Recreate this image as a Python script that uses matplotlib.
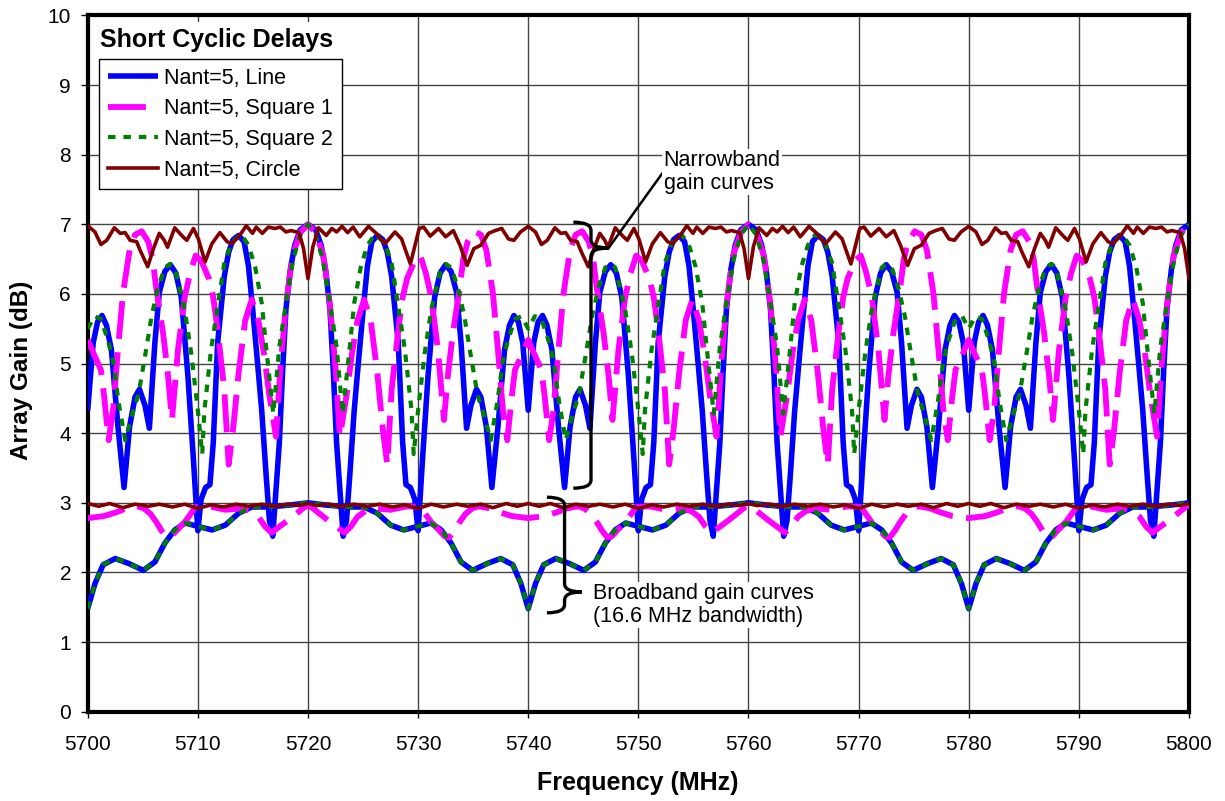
import matplotlib
matplotlib.use('Agg')
import matplotlib.pyplot as plt
from matplotlib.path import Path
from matplotlib.patches import PathPatch, Rectangle

plt.rcParams['font.family'] = ['Liberation Sans', 'DejaVu Sans']

# (frequency MHz, array gain dB)
# narrowband curves
line_nb = [
    (5700.0, 4.33), (5700.5, 5.30), (5700.9, 5.60), (5701.3, 5.69), (5701.7, 5.55), (5702.15, 5.20), (5702.75, 4.09), (5703.3, 3.22), (5703.8, 4.09), (5704.3, 4.52), (5704.7, 4.63), (5705.2, 4.40), (5705.6, 4.07), (5706.1, 5.30), (5706.5, 6.02), (5707.0, 6.32), (5707.5, 6.42), (5708.0, 6.30), (5708.5, 5.95), (5709.1, 4.82), (5709.6, 3.62), (5710.0, 2.60), (5710.3, 3.05), (5710.7, 3.22), (5711.1, 3.26), (5711.4, 3.86), (5711.8, 5.30), (5712.4, 6.25), (5712.8, 6.60), (5713.2, 6.78), (5713.7, 6.84), (5714.2, 6.75), (5714.6, 6.40), (5715.0, 5.75), (5715.4, 5.05), (5715.8, 4.33), (5716.2, 3.40), (5716.5, 2.75), (5716.8, 2.52), (5717.4, 3.86), (5717.7, 4.90), (5718.0, 5.78), (5718.4, 6.35), (5718.8, 6.70), (5719.3, 6.92), (5720.0, 7.00),
    (5720.7, 6.92), (5721.2, 6.70), (5721.6, 6.35), (5722.0, 5.78), (5722.3, 4.90), (5722.6, 3.86), (5723.2, 2.52), (5723.5, 2.75), (5723.8, 3.40), (5724.2, 4.33), (5724.6, 5.05), (5725.0, 5.75), (5725.4, 6.40), (5725.8, 6.75), (5726.3, 6.84), (5726.8, 6.78), (5727.2, 6.60), (5727.6, 6.25), (5728.2, 5.30), (5728.6, 3.86), (5728.9, 3.26), (5729.3, 3.22), (5729.7, 3.05), (5730.0, 2.60), (5730.4, 3.62), (5730.9, 4.82), (5731.5, 5.95), (5732.0, 6.30), (5732.5, 6.42), (5733.0, 6.32), (5733.5, 6.02), (5733.9, 5.30), (5734.4, 4.07), (5734.8, 4.40), (5735.3, 4.63), (5735.7, 4.52), (5736.2, 4.09), (5736.7, 3.22), (5737.25, 4.09), (5737.85, 5.20), (5738.3, 5.55), (5738.7, 5.69), (5739.1, 5.60), (5739.5, 5.30), (5740.0, 4.33),
    (5740.5, 5.30), (5740.9, 5.60), (5741.3, 5.69), (5741.7, 5.55), (5742.15, 5.20), (5742.75, 4.09), (5743.3, 3.22), (5743.8, 4.09), (5744.3, 4.52), (5744.7, 4.63), (5745.2, 4.40), (5745.6, 4.07), (5746.1, 5.30), (5746.5, 6.02), (5747.0, 6.32), (5747.5, 6.42), (5748.0, 6.30), (5748.5, 5.95), (5749.1, 4.82), (5749.6, 3.62), (5750.0, 2.60), (5750.3, 3.05), (5750.7, 3.22), (5751.1, 3.26), (5751.4, 3.86), (5751.8, 5.30), (5752.4, 6.25), (5752.8, 6.60), (5753.2, 6.78), (5753.7, 6.84), (5754.2, 6.75), (5754.6, 6.40), (5755.0, 5.75), (5755.4, 5.05), (5755.8, 4.33), (5756.2, 3.40), (5756.5, 2.75), (5756.8, 2.52), (5757.4, 3.86), (5757.7, 4.90), (5758.0, 5.78), (5758.4, 6.35), (5758.8, 6.70), (5759.3, 6.92), (5760.0, 7.00),
    (5760.7, 6.92), (5761.2, 6.70), (5761.6, 6.35), (5762.0, 5.78), (5762.3, 4.90), (5762.6, 3.86), (5763.2, 2.52), (5763.5, 2.75), (5763.8, 3.40), (5764.2, 4.33), (5764.6, 5.05), (5765.0, 5.75), (5765.4, 6.40), (5765.8, 6.75), (5766.3, 6.84), (5766.8, 6.78), (5767.2, 6.60), (5767.6, 6.25), (5768.2, 5.30), (5768.6, 3.86), (5768.9, 3.26), (5769.3, 3.22), (5769.7, 3.05), (5770.0, 2.60), (5770.4, 3.62), (5770.9, 4.82), (5771.5, 5.95), (5772.0, 6.30), (5772.5, 6.42), (5773.0, 6.32), (5773.5, 6.02), (5773.9, 5.30), (5774.4, 4.07), (5774.8, 4.40), (5775.3, 4.63), (5775.7, 4.52), (5776.2, 4.09), (5776.7, 3.22), (5777.25, 4.09), (5777.85, 5.20), (5778.3, 5.55), (5778.7, 5.69), (5779.1, 5.60), (5779.5, 5.30), (5780.0, 4.33),
    (5780.5, 5.30), (5780.9, 5.60), (5781.3, 5.69), (5781.7, 5.55), (5782.15, 5.20), (5782.75, 4.09), (5783.3, 3.22), (5783.8, 4.09), (5784.3, 4.52), (5784.7, 4.63), (5785.2, 4.40), (5785.6, 4.07), (5786.1, 5.30), (5786.5, 6.02), (5787.0, 6.32), (5787.5, 6.42), (5788.0, 6.30), (5788.5, 5.95), (5789.1, 4.82), (5789.6, 3.62), (5790.0, 2.60), (5790.3, 3.05), (5790.7, 3.22), (5791.1, 3.26), (5791.4, 3.86), (5791.8, 5.30), (5792.4, 6.25), (5792.8, 6.60), (5793.2, 6.78), (5793.7, 6.84), (5794.2, 6.75), (5794.6, 6.40), (5795.0, 5.75), (5795.4, 5.05), (5795.8, 4.33), (5796.2, 3.40), (5796.5, 2.75), (5796.8, 2.52), (5797.4, 3.86), (5797.7, 4.90), (5798.0, 5.78), (5798.4, 6.35), (5798.8, 6.70), (5799.3, 6.92), (5800.0, 7.00),
]

square1_nb = [
    (5700.0, 5.34), (5700.6, 5.12), (5701.2, 4.91), (5701.5, 4.52), (5701.9, 3.90), (5702.3, 4.33), (5702.75, 5.20), (5703.2, 6.00), (5703.8, 6.63), (5704.3, 6.85), (5704.9, 6.90), (5705.5, 6.75), (5705.9, 6.50), (5706.2, 6.11), (5706.85, 5.43), (5707.3, 4.82), (5707.65, 4.19), (5708.2, 5.20), (5708.8, 5.95), (5709.3, 6.30), (5709.8, 6.55), (5710.3, 6.48), (5711.0, 6.22), (5711.4, 5.95), (5711.8, 5.48), (5712.4, 4.63), (5712.8, 3.55), (5713.2, 4.05), (5713.7, 4.86), (5714.3, 5.62), (5714.9, 5.92), (5715.5, 5.62), (5716.0, 5.15), (5716.5, 4.54), (5717.1, 3.95), (5717.5, 4.94), (5718.0, 5.85), (5718.6, 6.55), (5719.3, 6.88), (5720.0, 7.00),
    (5720.7, 6.88), (5721.4, 6.55), (5722.0, 5.85), (5722.5, 4.94), (5722.9, 3.95), (5723.5, 4.54), (5724.0, 5.15), (5724.5, 5.62), (5725.1, 5.92), (5725.7, 5.62), (5726.3, 4.86), (5726.8, 4.05), (5727.2, 3.55), (5727.6, 4.63), (5728.2, 5.48), (5728.6, 5.95), (5729.0, 6.22), (5729.7, 6.48), (5730.2, 6.55), (5730.7, 6.30), (5731.2, 5.95), (5731.8, 5.20), (5732.35, 4.19), (5732.7, 4.82), (5733.15, 5.43), (5733.8, 6.11), (5734.1, 6.50), (5734.5, 6.75), (5735.1, 6.90), (5735.7, 6.85), (5736.2, 6.63), (5736.8, 6.00), (5737.25, 5.20), (5737.7, 4.33), (5738.1, 3.90), (5738.5, 4.52), (5738.8, 4.91), (5739.4, 5.12), (5740.0, 5.34),
    (5740.6, 5.12), (5741.2, 4.91), (5741.5, 4.52), (5741.9, 3.90), (5742.3, 4.33), (5742.75, 5.20), (5743.2, 6.00), (5743.8, 6.63), (5744.3, 6.85), (5744.9, 6.90), (5745.5, 6.75), (5745.9, 6.50), (5746.2, 6.11), (5746.85, 5.43), (5747.3, 4.82), (5747.65, 4.19), (5748.2, 5.20), (5748.8, 5.95), (5749.3, 6.30), (5749.8, 6.55), (5750.3, 6.48), (5751.0, 6.22), (5751.4, 5.95), (5751.8, 5.48), (5752.4, 4.63), (5752.8, 3.55), (5753.2, 4.05), (5753.7, 4.86), (5754.3, 5.62), (5754.9, 5.92), (5755.5, 5.62), (5756.0, 5.15), (5756.5, 4.54), (5757.1, 3.95), (5757.5, 4.94), (5758.0, 5.85), (5758.6, 6.55), (5759.3, 6.88), (5760.0, 7.00),
    (5760.7, 6.88), (5761.4, 6.55), (5762.0, 5.85), (5762.5, 4.94), (5762.9, 3.95), (5763.5, 4.54), (5764.0, 5.15), (5764.5, 5.62), (5765.1, 5.92), (5765.7, 5.62), (5766.3, 4.86), (5766.8, 4.05), (5767.2, 3.55), (5767.6, 4.63), (5768.2, 5.48), (5768.6, 5.95), (5769.0, 6.22), (5769.7, 6.48), (5770.2, 6.55), (5770.7, 6.30), (5771.2, 5.95), (5771.8, 5.20), (5772.35, 4.19), (5772.7, 4.82), (5773.15, 5.43), (5773.8, 6.11), (5774.1, 6.50), (5774.5, 6.75), (5775.1, 6.90), (5775.7, 6.85), (5776.2, 6.63), (5776.8, 6.00), (5777.25, 5.20), (5777.7, 4.33), (5778.1, 3.90), (5778.5, 4.52), (5778.8, 4.91), (5779.4, 5.12), (5780.0, 5.34),
    (5780.6, 5.12), (5781.2, 4.91), (5781.5, 4.52), (5781.9, 3.90), (5782.3, 4.33), (5782.75, 5.20), (5783.2, 6.00), (5783.8, 6.63), (5784.3, 6.85), (5784.9, 6.90), (5785.5, 6.75), (5785.9, 6.50), (5786.2, 6.11), (5786.85, 5.43), (5787.3, 4.82), (5787.65, 4.19), (5788.2, 5.20), (5788.8, 5.95), (5789.3, 6.30), (5789.8, 6.55), (5790.3, 6.48), (5791.0, 6.22), (5791.4, 5.95), (5791.8, 5.48), (5792.4, 4.63), (5792.8, 3.55), (5793.2, 4.05), (5793.7, 4.86), (5794.3, 5.62), (5794.9, 5.92), (5795.5, 5.62), (5796.0, 5.15), (5796.5, 4.54), (5797.1, 3.95), (5797.5, 4.94), (5798.0, 5.85), (5798.6, 6.55), (5799.3, 6.88), (5800.0, 7.00),
]

square2_nb = [
    (5700.0, 5.50), (5700.6, 5.68), (5701.2, 5.64), (5701.8, 5.35), (5702.3, 5.05), (5702.8, 4.45), (5703.4, 3.90), (5704.0, 4.25), (5704.6, 4.55), (5705.2, 5.10), (5705.8, 5.68), (5706.4, 6.10), (5707.0, 6.38), (5707.5, 6.43), (5707.9, 6.38), (5708.8, 5.78), (5709.4, 5.15), (5710.0, 4.33), (5710.4, 3.70), (5710.6, 4.33), (5711.2, 5.20), (5711.8, 5.82), (5712.4, 6.44), (5713.05, 6.73), (5713.9, 6.86), (5714.6, 6.70), (5715.2, 6.39), (5715.8, 5.87), (5716.2, 5.24), (5716.85, 4.28), (5717.4, 5.24), (5718.05, 5.92), (5718.65, 6.49), (5719.3, 6.85), (5720.0, 7.00),
    (5720.7, 6.85), (5721.35, 6.49), (5721.95, 5.92), (5722.6, 5.24), (5723.15, 4.28), (5723.8, 5.24), (5724.2, 5.87), (5724.8, 6.39), (5725.4, 6.70), (5726.1, 6.86), (5726.95, 6.73), (5727.6, 6.44), (5728.2, 5.82), (5728.8, 5.20), (5729.4, 4.33), (5729.6, 3.70), (5730.0, 4.33), (5730.6, 5.15), (5731.2, 5.78), (5732.1, 6.38), (5732.5, 6.43), (5733.0, 6.38), (5733.6, 6.10), (5734.2, 5.68), (5734.8, 5.10), (5735.4, 4.55), (5736.0, 4.25), (5736.6, 3.90), (5737.2, 4.45), (5737.7, 5.05), (5738.2, 5.35), (5738.8, 5.64), (5739.4, 5.68), (5740.0, 5.50),
    (5740.6, 5.68), (5741.2, 5.64), (5741.8, 5.35), (5742.3, 5.05), (5742.8, 4.45), (5743.4, 3.90), (5744.0, 4.25), (5744.6, 4.55), (5745.2, 5.10), (5745.8, 5.68), (5746.4, 6.10), (5747.0, 6.38), (5747.5, 6.43), (5747.9, 6.38), (5748.8, 5.78), (5749.4, 5.15), (5750.0, 4.33), (5750.4, 3.70), (5750.6, 4.33), (5751.2, 5.20), (5751.8, 5.82), (5752.4, 6.44), (5753.05, 6.73), (5753.9, 6.86), (5754.6, 6.70), (5755.2, 6.39), (5755.8, 5.87), (5756.2, 5.24), (5756.85, 4.28), (5757.4, 5.24), (5758.05, 5.92), (5758.65, 6.49), (5759.3, 6.85), (5760.0, 7.00),
    (5760.7, 6.85), (5761.35, 6.49), (5761.95, 5.92), (5762.6, 5.24), (5763.15, 4.28), (5763.8, 5.24), (5764.2, 5.87), (5764.8, 6.39), (5765.4, 6.70), (5766.1, 6.86), (5766.95, 6.73), (5767.6, 6.44), (5768.2, 5.82), (5768.8, 5.20), (5769.4, 4.33), (5769.6, 3.70), (5770.0, 4.33), (5770.6, 5.15), (5771.2, 5.78), (5772.1, 6.38), (5772.5, 6.43), (5773.0, 6.38), (5773.6, 6.10), (5774.2, 5.68), (5774.8, 5.10), (5775.4, 4.55), (5776.0, 4.25), (5776.6, 3.90), (5777.2, 4.45), (5777.7, 5.05), (5778.2, 5.35), (5778.8, 5.64), (5779.4, 5.68), (5780.0, 5.50),
    (5780.6, 5.68), (5781.2, 5.64), (5781.8, 5.35), (5782.3, 5.05), (5782.8, 4.45), (5783.4, 3.90), (5784.0, 4.25), (5784.6, 4.55), (5785.2, 5.10), (5785.8, 5.68), (5786.4, 6.10), (5787.0, 6.38), (5787.5, 6.43), (5787.9, 6.38), (5788.8, 5.78), (5789.4, 5.15), (5790.0, 4.33), (5790.4, 3.70), (5790.6, 4.33), (5791.2, 5.20), (5791.8, 5.82), (5792.4, 6.44), (5793.05, 6.73), (5793.9, 6.86), (5794.6, 6.70), (5795.2, 6.39), (5795.8, 5.87), (5796.2, 5.24), (5796.85, 4.28), (5797.4, 5.24), (5798.05, 5.92), (5798.65, 6.49), (5799.3, 6.85), (5800.0, 7.00),
]

circle_nb = [
    (5700.0, 6.98), (5700.66, 6.89), (5701.2, 6.71), (5701.73, 6.77), (5702.42, 6.95), (5702.95, 6.87), (5703.4, 6.88), (5703.85, 6.77), (5704.45, 6.75), (5704.75, 6.63), (5705.45, 6.39), (5705.97, 6.65), (5706.5, 6.87), (5706.95, 6.77), (5707.25, 6.67), (5707.9, 6.95), (5708.65, 6.82), (5709.0, 6.77), (5709.6, 6.94), (5710.05, 6.79), (5710.66, 6.46), (5711.27, 6.72), (5712.0, 6.88), (5712.66, 6.75), (5713.1, 6.72), (5713.8, 6.84), (5714.4, 6.98), (5714.96, 6.87), (5715.3, 6.96), (5715.85, 6.87), (5716.4, 6.96), (5717.0, 6.94), (5717.5, 6.96), (5718.0, 6.89), (5718.45, 6.91), (5719.2, 6.88), (5719.6, 6.65), (5720.0, 6.22),
    (5720.45, 6.68), (5720.96, 6.95), (5721.66, 6.84), (5722.17, 6.94), (5722.6, 6.89), (5723.1, 6.97), (5723.6, 6.88), (5724.1, 6.96), (5724.7, 6.82), (5725.5, 6.97), (5726.2, 6.87), (5727.0, 6.72), (5727.9, 6.89), (5728.5, 6.79), (5729.3, 6.43), (5730.1, 6.94), (5730.5, 6.96), (5731.1, 6.83), (5731.86, 6.94), (5732.5, 6.82), (5733.2, 6.91), (5733.8, 6.70), (5734.45, 6.41), (5735.06, 6.65), (5735.7, 6.70), (5736.4, 6.87), (5737.0, 6.91), (5737.6, 6.94), (5738.2, 6.79), (5738.7, 6.77), (5739.3, 6.89), (5740.0, 6.97),
    (5740.66, 6.89), (5741.2, 6.71), (5741.73, 6.77), (5742.42, 6.95), (5742.95, 6.87), (5743.4, 6.88), (5743.85, 6.77), (5744.45, 6.75), (5744.75, 6.63), (5745.45, 6.39), (5745.97, 6.65), (5746.5, 6.87), (5746.95, 6.77), (5747.25, 6.67), (5747.9, 6.95), (5748.65, 6.82), (5749.0, 6.77), (5749.6, 6.94), (5750.05, 6.79), (5750.66, 6.46), (5751.27, 6.72), (5752.0, 6.88), (5752.66, 6.75), (5753.1, 6.72), (5753.8, 6.84), (5754.4, 6.98), (5754.96, 6.87), (5755.3, 6.96), (5755.85, 6.87), (5756.4, 6.96), (5757.0, 6.94), (5757.5, 6.96), (5758.0, 6.89), (5758.45, 6.91), (5759.2, 6.88), (5759.6, 6.65), (5760.0, 6.22),
    (5760.45, 6.68), (5760.96, 6.95), (5761.66, 6.84), (5762.17, 6.94), (5762.6, 6.89), (5763.1, 6.97), (5763.6, 6.88), (5764.1, 6.96), (5764.7, 6.82), (5765.5, 6.97), (5766.2, 6.87), (5767.0, 6.72), (5767.9, 6.89), (5768.5, 6.79), (5769.3, 6.43), (5770.1, 6.94), (5770.5, 6.96), (5771.1, 6.83), (5771.86, 6.94), (5772.5, 6.82), (5773.2, 6.91), (5773.8, 6.70), (5774.45, 6.41), (5775.06, 6.65), (5775.7, 6.70), (5776.4, 6.87), (5777.0, 6.91), (5777.6, 6.94), (5778.2, 6.79), (5778.7, 6.77), (5779.3, 6.89), (5780.0, 6.97),
    (5780.66, 6.89), (5781.2, 6.71), (5781.73, 6.77), (5782.42, 6.95), (5782.95, 6.87), (5783.4, 6.88), (5783.85, 6.77), (5784.45, 6.75), (5784.75, 6.63), (5785.45, 6.39), (5785.97, 6.65), (5786.5, 6.87), (5786.95, 6.77), (5787.25, 6.67), (5787.9, 6.95), (5788.65, 6.82), (5789.0, 6.77), (5789.6, 6.94), (5790.05, 6.79), (5790.66, 6.46), (5791.27, 6.72), (5792.0, 6.88), (5792.66, 6.75), (5793.1, 6.72), (5793.8, 6.84), (5794.4, 6.98), (5794.96, 6.87), (5795.3, 6.96), (5795.85, 6.87), (5796.4, 6.96), (5797.0, 6.94), (5797.5, 6.96), (5798.0, 6.89), (5798.45, 6.91), (5799.2, 6.88), (5799.6, 6.65), (5800.0, 6.22),
]

# broadband curves (16.6 MHz bandwidth); Square 2 coincides with Line
line_bb = [
    (5700.0, 1.48), (5700.66, 1.84), (5701.4, 2.11), (5702.5, 2.20), (5703.7, 2.13), (5705.05, 2.03), (5706.1, 2.15), (5707.0, 2.42), (5707.9, 2.61), (5708.85, 2.71), (5710.05, 2.66), (5711.3, 2.61), (5712.5, 2.68), (5713.7, 2.85), (5714.9, 2.94), (5716.4, 2.94), (5718.5, 2.97), (5720.0, 3.00),
    (5721.5, 2.97), (5723.6, 2.94), (5725.1, 2.94), (5726.3, 2.85), (5727.5, 2.68), (5728.7, 2.61), (5729.95, 2.66), (5731.15, 2.71), (5732.1, 2.61), (5733.0, 2.42), (5733.9, 2.15), (5734.95, 2.03), (5736.3, 2.13), (5737.5, 2.20), (5738.6, 2.11), (5739.34, 1.84), (5740.0, 1.48),
    (5740.66, 1.84), (5741.4, 2.11), (5742.5, 2.20), (5743.7, 2.13), (5745.05, 2.03), (5746.1, 2.15), (5747.0, 2.42), (5747.9, 2.61), (5748.85, 2.71), (5750.05, 2.66), (5751.3, 2.61), (5752.5, 2.68), (5753.7, 2.85), (5754.9, 2.94), (5756.4, 2.94), (5758.5, 2.97), (5760.0, 3.00),
    (5761.5, 2.97), (5763.6, 2.94), (5765.1, 2.94), (5766.3, 2.85), (5767.5, 2.68), (5768.7, 2.61), (5769.95, 2.66), (5771.15, 2.71), (5772.1, 2.61), (5773.0, 2.42), (5773.9, 2.15), (5774.95, 2.03), (5776.3, 2.13), (5777.5, 2.20), (5778.6, 2.11), (5779.34, 1.84), (5780.0, 1.48),
    (5780.66, 1.84), (5781.4, 2.11), (5782.5, 2.20), (5783.7, 2.13), (5785.05, 2.03), (5786.1, 2.15), (5787.0, 2.42), (5787.9, 2.61), (5788.85, 2.71), (5790.05, 2.66), (5791.3, 2.61), (5792.5, 2.68), (5793.7, 2.85), (5794.9, 2.94), (5796.4, 2.94), (5798.5, 2.97), (5800.0, 3.00),
]
square2_bb = line_bb

square1_bb = [
    (5700.0, 2.78), (5701.5, 2.81), (5702.7, 2.87), (5703.5, 2.92), (5704.5, 2.95), (5705.1, 2.92), (5705.7, 2.84), (5706.2, 2.73), (5706.7, 2.60), (5707.2, 2.50), (5707.6, 2.52), (5708.0, 2.59), (5708.85, 2.73), (5709.8, 2.94), (5711.0, 2.95), (5712.5, 2.90), (5714.0, 2.92), (5714.8, 2.88), (5715.5, 2.80), (5716.1, 2.66), (5716.7, 2.57), (5717.0, 2.61), (5718.2, 2.75), (5719.7, 2.94), (5720.0, 2.96),
    (5720.3, 2.94), (5721.8, 2.75), (5723.0, 2.61), (5723.3, 2.57), (5723.9, 2.66), (5724.5, 2.80), (5725.2, 2.88), (5726.0, 2.92), (5727.5, 2.90), (5729.0, 2.95), (5730.2, 2.94), (5731.15, 2.73), (5732.0, 2.59), (5732.4, 2.52), (5732.8, 2.50), (5733.3, 2.60), (5733.8, 2.73), (5734.3, 2.84), (5734.9, 2.92), (5735.5, 2.95), (5736.5, 2.92), (5737.3, 2.87), (5738.5, 2.81), (5740.0, 2.78),
    (5741.5, 2.81), (5742.7, 2.87), (5743.5, 2.92), (5744.5, 2.95), (5745.1, 2.92), (5745.7, 2.84), (5746.2, 2.73), (5746.7, 2.60), (5747.2, 2.50), (5747.6, 2.52), (5748.0, 2.59), (5748.85, 2.73), (5749.8, 2.94), (5751.0, 2.95), (5752.5, 2.90), (5754.0, 2.92), (5754.8, 2.88), (5755.5, 2.80), (5756.1, 2.66), (5756.7, 2.57), (5757.0, 2.61), (5758.2, 2.75), (5759.7, 2.94), (5760.0, 2.96),
    (5760.3, 2.94), (5761.8, 2.75), (5763.0, 2.61), (5763.3, 2.57), (5763.9, 2.66), (5764.5, 2.80), (5765.2, 2.88), (5766.0, 2.92), (5767.5, 2.90), (5769.0, 2.95), (5770.2, 2.94), (5771.15, 2.73), (5772.0, 2.59), (5772.4, 2.52), (5772.8, 2.50), (5773.3, 2.60), (5773.8, 2.73), (5774.3, 2.84), (5774.9, 2.92), (5775.5, 2.95), (5776.5, 2.92), (5777.3, 2.87), (5778.5, 2.81), (5780.0, 2.78),
    (5781.5, 2.81), (5782.7, 2.87), (5783.5, 2.92), (5784.5, 2.95), (5785.1, 2.92), (5785.7, 2.84), (5786.2, 2.73), (5786.7, 2.60), (5787.2, 2.50), (5787.6, 2.52), (5788.0, 2.59), (5788.85, 2.73), (5789.8, 2.94), (5791.0, 2.95), (5792.5, 2.90), (5794.0, 2.92), (5794.8, 2.88), (5795.5, 2.80), (5796.1, 2.66), (5796.7, 2.57), (5797.0, 2.61), (5798.2, 2.75), (5799.7, 2.94), (5800.0, 2.96),
]

circle_bb = [
    (5700.0, 2.99), (5701.0, 2.95), (5702.0, 2.99), (5703.2, 2.93), (5704.3, 2.98), (5705.5, 2.95), (5706.5, 2.98), (5707.7, 2.94), (5708.8, 2.98), (5710.0, 2.92), (5711.2, 2.97), (5712.3, 2.94), (5713.5, 2.98), (5714.6, 2.95), (5715.8, 2.98), (5717.0, 2.95), (5718.2, 2.98), (5719.2, 2.96), (5720.0, 2.99),
    (5720.8, 2.96), (5721.8, 2.98), (5723.0, 2.95), (5724.2, 2.98), (5725.4, 2.95), (5726.5, 2.98), (5727.7, 2.94), (5728.8, 2.97), (5730.0, 2.92), (5731.2, 2.98), (5732.3, 2.94), (5733.5, 2.98), (5734.5, 2.95), (5735.7, 2.98), (5736.8, 2.93), (5738.0, 2.99), (5739.0, 2.95), (5740.0, 2.99),
    (5741.0, 2.95), (5742.0, 2.99), (5743.2, 2.93), (5744.3, 2.98), (5745.5, 2.95), (5746.5, 2.98), (5747.7, 2.94), (5748.8, 2.98), (5750.0, 2.92), (5751.2, 2.97), (5752.3, 2.94), (5753.5, 2.98), (5754.6, 2.95), (5755.8, 2.98), (5757.0, 2.95), (5758.2, 2.98), (5759.2, 2.96), (5760.0, 2.99),
    (5760.8, 2.96), (5761.8, 2.98), (5763.0, 2.95), (5764.2, 2.98), (5765.4, 2.95), (5766.5, 2.98), (5767.7, 2.94), (5768.8, 2.97), (5770.0, 2.92), (5771.2, 2.98), (5772.3, 2.94), (5773.5, 2.98), (5774.5, 2.95), (5775.7, 2.98), (5776.8, 2.93), (5778.0, 2.99), (5779.0, 2.95), (5780.0, 2.99),
    (5781.0, 2.95), (5782.0, 2.99), (5783.2, 2.93), (5784.3, 2.98), (5785.5, 2.95), (5786.5, 2.98), (5787.7, 2.94), (5788.8, 2.98), (5790.0, 2.92), (5791.2, 2.97), (5792.3, 2.94), (5793.5, 2.98), (5794.6, 2.95), (5795.8, 2.98), (5797.0, 2.95), (5798.2, 2.98), (5799.2, 2.96), (5800.0, 2.99),
]

labels = ['Nant=5, Line', 'Nant=5, Square 1', 'Nant=5, Square 2', 'Nant=5, Circle']
xticks = list(range(5700, 5801, 10))
yticks = list(range(0, 11))


def xy(pts):
    return [p[0] for p in pts], [p[1] for p in pts]


fig = plt.figure(figsize=(12.25, 8.01), dpi=100)
ax = fig.add_axes([87.7 / 1225, 1 - 711.7 / 801, (1189 - 87.7) / 1225, (711.7 - 15.4) / 801])

styles = [
    dict(color='#0000FF', lw=4.0, solid_capstyle='butt', solid_joinstyle='round', zorder=3),
    dict(color='#FF00FF', lw=4.2, dashes=(6.5, 2.3), dash_capstyle='butt', zorder=3.1),
    dict(color='#008000', lw=3.0, dashes=(1.8, 1.9), dash_capstyle='butt', zorder=3.2),
    dict(color='#800000', lw=2.6, solid_joinstyle='round', zorder=3.3),
]
pairs = [(line_nb, line_bb), (square1_nb, square1_bb), (square2_nb, square2_bb), (circle_nb, circle_bb)]
for (nb, bb), st, lab in zip(pairs, styles, labels):
    ax.plot(*xy(nb), label=lab, **st)
    ax.plot(*xy(bb), **st)

ax.set_xlim(5700, 5800)
ax.set_ylim(0, 10)
ax.set_xticks(xticks)
ax.set_yticks(yticks)
ax.grid(True, color='#444444', lw=1.0)
ax.set_axisbelow(True)
for s in ax.spines.values():
    s.set_linewidth(3)
ax.tick_params(axis='x', direction='out', length=4, width=1, labelsize=15, pad=13)
ax.tick_params(axis='y', direction='out', length=5, width=1, labelsize=15, pad=7)

fig.text(638 / 1225, 1 - 783 / 801, 'Frequency (MHz)', ha='center', va='center',
         fontsize=18, fontweight='bold')
fig.text(22 / 1225, 1 - 370 / 801, 'Array Gain (dB)', ha='center', va='center',
         rotation=90, fontsize=17.5, fontweight='bold')

# legend with title box
ax.add_patch(Rectangle((0.0103, 0.937), 0.2206, 0.054, transform=ax.transAxes,
                       facecolor='white', edgecolor='none', zorder=5))
ax.text(0.0112, 0.9647, 'Short Cyclic Delays', transform=ax.transAxes, fontsize=18,
        fontweight='bold', va='center', ha='left', zorder=6)
leg = ax.legend(loc='upper left', bbox_to_anchor=(0.0103, 0.9374), borderaxespad=0,
                fontsize=15.5, frameon=True, fancybox=False, framealpha=1,
                edgecolor='black', borderpad=0.4, labelspacing=0.45,
                handlelength=2.33, handletextpad=0.3)
leg.get_frame().set_linewidth(1.0)
leg.set_zorder(6)


def brace(x_hook, x_spine, x_tip, top, tip, bottom, ry):
    verts = [(x_hook, top), (x_spine, top), (x_spine, top - ry), (x_spine, tip + ry),
             (x_spine, tip), (x_tip, tip),
             (x_tip, tip), (x_spine, tip), (x_spine, tip - ry), (x_spine, bottom + ry),
             (x_spine, bottom), (x_hook, bottom)]
    codes = [Path.MOVETO, Path.CURVE3, Path.CURVE3, Path.LINETO, Path.CURVE3, Path.CURVE3,
             Path.MOVETO, Path.CURVE3, Path.CURVE3, Path.LINETO, Path.CURVE3, Path.CURVE3]
    ax.add_patch(PathPatch(Path(verts, codes), fill=False, color='black', lw=2.4,
                           zorder=7, clip_on=False))


brace(5744.1, 5745.7, 5747.3, 7.03, 6.66, 3.21, 0.12)
brace(5741.7, 5743.3, 5744.85, 3.08, 1.72, 1.42, 0.12)
ax.plot([5747.3, 5752.3], [6.66, 7.76], color='black', lw=1.8, zorder=7)
ax.text(5752.3, 7.75, 'Narrowband\ngain curves', fontsize=15.5, ha='left', va='center',
        linespacing=1.1, zorder=7,
        bbox=dict(facecolor='white', edgecolor='none', pad=1))
ax.text(5745.85, 1.53, 'Broadband gain curves\n(16.6 MHz bandwidth)', fontsize=15.5,
        ha='left', va='center', linespacing=1.1, zorder=7,
        bbox=dict(facecolor='white', edgecolor='none', pad=1))

fig.savefig('out.png', dpi=100)
